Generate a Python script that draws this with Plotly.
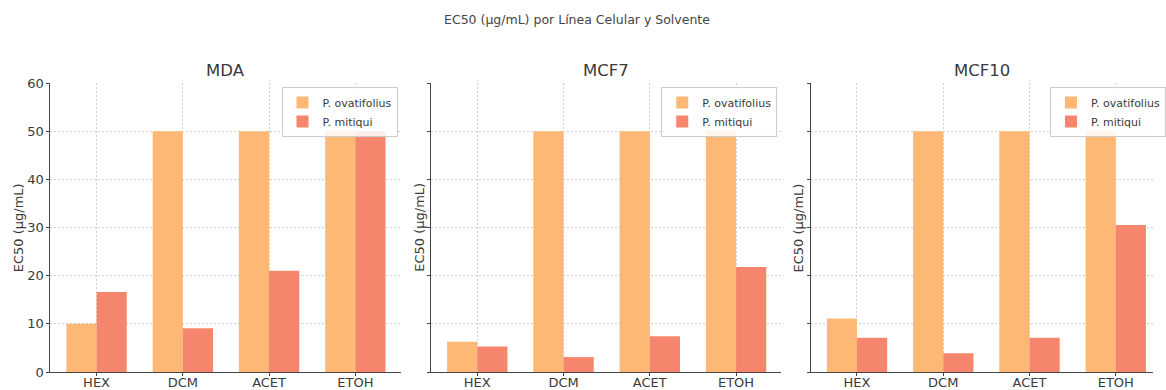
import plotly.graph_objects as go

solvents = ["HEX", "DCM", "ACET", "ETOH"]
lines = ["MDA", "MCF7", "MCF10"]
ovatifolius = {
    "MDA": [10.0, 50, 50, 50],
    "MCF7": [6.3, 50, 50, 50],
    "MCF10": [11.1, 50, 50, 50],
}
mitiqui = {
    "MDA": [16.6, 9.1, 21.0, 50],
    "MCF7": [5.3, 3.1, 7.4, 21.8],
    "MCF10": [7.1, 3.9, 7.1, 30.5],
}
yticks = [0, 10, 20, 30, 40, 50, 60]

W, H = 1166, 390
C_OV = "#FDB876"
C_MI = "#F5866D"
TXT = "#3a3a3a"
FONT = "DejaVu Sans"

# plot areas in pixels (left, right)
panels_px = [(51, 406), (436, 790), (820, 1166)]
top_px, bot_px = 83, 372
unit_px = 355 / 4.07

fig = go.Figure()
for i, ln in enumerate(lines):
    n = "" if i == 0 else str(i + 1)
    leg = "legend" + n
    fig.add_trace(go.Bar(x=solvents, y=ovatifolius[ln], name="P. ovatifolius",
                         marker=dict(color=C_OV, line=dict(width=0)),
                         xaxis="x" + n, yaxis="y" + n, legend=leg))
    fig.add_trace(go.Bar(x=solvents, y=mitiqui[ln], name="P. mitiqui",
                         marker=dict(color=C_MI, line=dict(width=0)),
                         xaxis="x" + n, yaxis="y" + n, legend=leg))

layout = dict(
    width=W, height=H,
    margin=dict(l=0, r=0, t=0, b=0),
    paper_bgcolor="white", plot_bgcolor="white",
    barmode="group", bargap=0.3, bargroupgap=0,
    font=dict(family=FONT, color=TXT, size=13),
    showlegend=True,
)

annotations = [dict(text="EC50 (µg/mL) por Línea Celular y Solvente", x=583 / W, y=1 - 19 / H,
                    xref="paper", yref="paper", showarrow=False,
                    font=dict(size=12.5, color="#444"), xanchor="center", yanchor="middle")]

ytitle_x = [19, 424, 808]
legend_pos = [(402, "right"), (786, "right"), (1062, "left")]

for i, ln in enumerate(lines):
    n = "" if i == 0 else str(i + 1)
    l, r = panels_px[i]
    width_units = (r - l) / unit_px
    xr = [-0.535, -0.535 + width_units]
    fig_layout_x = dict(
        domain=[l / W, r / W], anchor="y" + n, range=xr,
        showgrid=True, gridcolor="#cfcfcf", griddash="2px,2px", gridwidth=1,
        showline=True, linecolor="#444", linewidth=1.3,
        ticks="outside", ticklen=3, tickcolor="#444",
        tickfont=dict(size=13, color=TXT), automargin=False,
        ticklabelstandoff=-5,
        categoryorder="array", categoryarray=solvents,
        zeroline=False,
    )
    fig_layout_y = dict(
        domain=[(H - bot_px) / H, (H - top_px) / H], anchor="x" + n,
        range=[0, 60], tickvals=yticks,
        showticklabels=(i == 0),
        showgrid=True, gridcolor="#cfcfcf", griddash="2px,2px", gridwidth=1,
        showline=True, linecolor="#444", linewidth=1.3,
        ticks="outside", ticklen=3, tickcolor="#444",
        tickfont=dict(size=13, color=TXT), automargin=False,
        zeroline=False,
    )
    layout["xaxis" + n] = fig_layout_x
    layout["yaxis" + n] = fig_layout_y

    annotations.append(dict(text=ln, x=(l + min(r, l + 355)) / 2 / W, y=1 - 70 / H,
                            xref="paper", yref="paper", showarrow=False,
                            font=dict(size=16.5, color=TXT), xanchor="center", yanchor="middle"))
    annotations.append(dict(text="EC50 (µg/mL)", x=ytitle_x[i] / W, y=(H - (top_px + bot_px) / 2) / H,
                            xref="paper", yref="paper", showarrow=False, textangle=-90,
                            font=dict(size=13, color=TXT), xanchor="center", yanchor="middle"))
    lx, anc = legend_pos[i]
    layout["legend" + n] = dict(
        x=lx / W, y=1 - 87 / H, xanchor=anc, yanchor="top",
        xref="paper", yref="paper",
        bgcolor="rgba(255,255,255,0.85)", bordercolor="#cccccc", borderwidth=1,
        font=dict(size=11, color=TXT), tracegroupgap=0,
        itemwidth=30,
    )

layout["annotations"] = annotations
fig.update_layout(**layout)
fig.write_html("out.html", config={"displayModeBar": False},
               post_script="document.body.style.margin='0';document.body.style.overflow='hidden';")
